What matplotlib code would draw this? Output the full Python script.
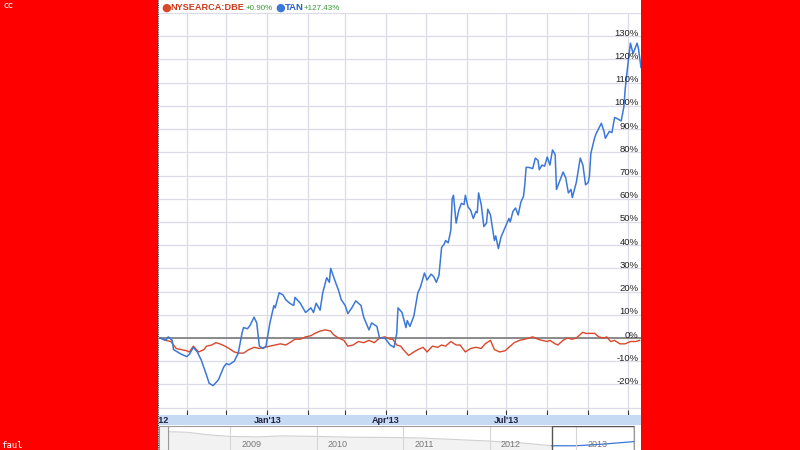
import numpy as np
import pandas as pd
import matplotlib
matplotlib.use("Agg")
import matplotlib.pyplot as plt
from matplotlib.patches import Rectangle

# start of the one-year window
start = pd.Timestamp("2012-10-11")

# TAN: days after start, % change
tan_days = [1, 5, 7, 10, 11, 17, 21, 23, 26, 29, 32, 36, 38, 41, 45, 49, 51, 53, 57, 60,
            63, 64, 67, 69, 72, 74, 76, 79, 81, 84, 87, 88, 91, 94, 96, 99, 102, 103, 107, 111,
            115, 117, 119, 122, 124, 127, 129, 130, 134, 136, 138, 141, 143, 146, 149, 153, 155, 159, 161, 165,
            167, 171, 175, 178, 180, 181, 184, 187, 188, 190, 193, 196, 198, 201, 203, 206, 208, 210, 212, 214,
            216, 217, 219, 221, 222, 223, 225, 227, 229, 231, 232, 234, 236, 238, 240, 241, 242, 244, 246, 248,
            249, 251, 254, 255, 257, 259, 262, 265, 266, 268, 270, 272, 274, 276, 277, 278, 280, 283, 285, 287,
            288, 290, 292, 294, 296, 298, 300, 301, 303, 306, 308, 310, 312, 313, 316, 318, 319, 321, 323, 325,
            326, 327, 330, 331, 335, 337, 338, 341, 343, 345, 347, 350, 352, 353, 354, 356, 357, 359, 361, 362,
            363, 365]
tan_pct = [0, -1, 0.5, -1, -5, -7, -8, -7, -4, -6, -9.5, -16, -19.5, -20.5, -18, -12.5, -11, -11.5, -10, -6.5,
           2.5, 4.5, 4, 5.5, 9, 6.5, -3.5, -4.5, -3.5, 6.5, 14, 13, 19.5, 18.5, 16.5, 15, 14, 17.5, 15, 11,
           13, 11, 15, 12, 19.5, 26, 24, 30, 23.5, 20.5, 16.5, 14, 10.5, 13, 16, 14, 9, 3.5, 6.5, 5,
           0, 0, -3, -4, 2, 13, 11, 4.5, 7.5, 5, 9.5, 19.5, 22, 28, 25, 27.5, 26.5, 24, 27, 39,
           40.5, 42, 41, 46.5, 60, 61.5, 49.5, 55, 58, 57.5, 61.5, 56.5, 55, 51.5, 54.5, 54, 62.5, 57.5, 48, 49.5,
           55.5, 53, 42, 44, 38.5, 43.5, 47.5, 51.5, 50, 54.5, 56, 53, 58.5, 61, 66, 73.5, 73.5, 73, 77.5, 76.5,
           72.5, 74.5, 74, 78, 74.5, 81, 79, 64, 67, 71.5, 69, 62.5, 64, 60.5, 67, 74, 77.5, 74.5, 66, 67,
           70, 79.5, 86.5, 88, 92.5, 89, 86, 89, 88.5, 95, 94.5, 93.5, 99.5, 107, 112.5, 122.5, 127, 122.5, 125.5, 127,
           125, 116.5]

# NYSEARCA:DBE: days after start, % change
dbe_days = [1, 5, 9, 13, 17, 21, 23, 26, 30, 34, 36, 40, 43, 46, 50, 53, 57, 61, 64, 68,
            72, 76, 80, 84, 88, 92, 96, 99, 103, 107, 111, 115, 118, 122, 126, 130, 132, 136, 140, 143,
            147, 151, 155, 159, 163, 167, 171, 175, 177, 180, 183, 185, 189, 193, 196, 200, 203, 207, 211, 214,
            217, 221, 225, 228, 232, 236, 240, 244, 247, 251, 254, 258, 262, 265, 269, 273, 277, 280, 283, 287,
            290, 294, 296, 300, 302, 306, 309, 313, 316, 319, 321, 323, 327, 330, 333, 337, 339, 342, 345, 349,
            353, 357, 361, 364]
dbe_pct = [0, -1, -1.5, -4.5, -5, -5.5, -6, -3.5, -6, -5, -3.5, -3, -2, -2.5, -3.5, -4.5, -6, -6.5, -6.5, -5,
           -4, -4.5, -4, -3.5, -3, -2.5, -3, -2, -0.5, -0.5, 0.5, 1, 2, 3, 3.5, 3, 1.5, 0, -1, -3.5,
           -3, -1.5, -2, -1, -2, 0, 0.5, -0.5, -0.5, -3, -3.5, -5, -7.5, -6, -5, -4, -6, -3.5, -4, -3,
           -3.5, -1.5, -3, -3, -6, -4.5, -4, -4.5, -2.5, -1, -5, -6, -5.5, -4, -2, -1, -0.5, 0, 0.5, -0.5,
           -1, -1.5, -1, -2.5, -3, -1, 0, -0.5, 0, 1.5, 2.5, 2, 2, 2, 0.5, 0, 0.5, -1.5, -1, -2.5,
           -2.5, -1.5, -1.5, -1]

y_ticks = [-20, -10, 0, 10, 20, 30, 40, 50, 60, 70, 80, 90, 100, 110, 120, 130]
# label anchor dates (the Oct'12 label is mostly cut off at the left edge)
x_labels = {"2012-10-08": "Oct'12", "2013-01-01": "Jan'13", "2013-04-01": "Apr'13", "2013-07-01": "Jul'13"}

# navigator strip: long history (fractional years, relative level)
nav_years = [2008.28, 2008.5, 2008.75, 2009.0, 2009.3, 2009.6, 2010.0, 2010.4, 2010.8, 2011.2,
             2011.6, 2012.0, 2012.4, 2012.72, 2013.0, 2013.3, 2013.67]
nav_level = [0.78, 0.76, 0.66, 0.6, 0.58, 0.62, 0.6, 0.57, 0.56, 0.54,
             0.48, 0.42, 0.34, 0.24, 0.24, 0.3, 0.4]
nav_year_labels = [2009, 2010, 2011, 2012, 2013]

RED = "#d9482b"
BLUE = "#3b78d8"
GRID = "#dcdce8"
SANS = "Liberation Sans"

W, H = 800, 450
fig = plt.figure(figsize=(8, 4.5), dpi=100, facecolor="#ff0000")


def box(x0, y0, x1, y1):
    # pixel box (top-left origin) -> figure fraction rect
    return [x0 / W, 1 - y1 / H, (x1 - x0) / W, (y1 - y0) / H]


# white panel behind everything
fig.patches.append(Rectangle((158 / W, 0), (641 - 158) / W, 1, transform=fig.transFigure,
                             facecolor="white", edgecolor="none", zorder=-10))
fig.lines.append(plt.Line2D([158 / W, 158 / W], [0, 1], transform=fig.transFigure,
                            color="#333333", lw=0.8, ls=(0, (1, 1)), zorder=10))

tan_dates = start + pd.to_timedelta(tan_days, unit="D")
dbe_dates = start + pd.to_timedelta(dbe_days, unit="D")
end = start + pd.Timedelta(days=365)

ax = fig.add_axes(box(159, 13, 641, 410))
ax.set_facecolor("white")
ax.set_xlim(start, end)
ax.set_ylim(-31, 140)
for s in ax.spines.values():
    s.set_visible(False)

months = pd.date_range("2012-11-01", "2013-10-01", freq="MS")
for m in months:
    ax.axvline(m, color=GRID, lw=0.9, zorder=0)
for v in range(-30, 141, 10):
    ax.axhline(v, color=GRID, lw=0.9, zorder=0)
ax.axhline(0, color="#8a8a8a", lw=1.4, zorder=1)

ax.plot(dbe_dates, dbe_pct, color=RED, lw=1.0, zorder=2)
ax.plot(tan_dates, tan_pct, color=BLUE, lw=1.1, zorder=3)

ax.set_xticks(months)
ax.tick_params(axis="x", direction="out", length=4, width=0.8, color="#333333", labelbottom=False)
ax.set_yticks([])
for v in y_ticks:
    ax.text(0.995, v + 1.3, f"{v}%", transform=ax.get_yaxis_transform(), ha="right", va="center",
            fontsize=6.8, color="#222222", family=SANS)

# blue label band
band = fig.add_axes(box(159, 415, 641, 425), sharex=ax)
band.set_facecolor("#c6daf4")
for s in band.spines.values():
    s.set_visible(False)
band.set_yticks([])
band.tick_params(axis="x", length=0, labelbottom=False)
for d, lab in x_labels.items():
    band.text(pd.Timestamp(d), 0.45, lab, ha="center", va="center", fontsize=6.5,
              fontweight="bold", color="#222244", clip_on=True, family=SANS,
              transform=band.get_xaxis_transform())

# navigator
nav = fig.add_axes(box(168, 426, 634, 452))
nav.set_facecolor("white")
nav.set_xlim(2008.28, 2013.67)
nav.set_ylim(0, 1)
nav.set_xticks([])
nav.set_yticks([])
for s in nav.spines.values():
    s.set_color("#9a9a9a")
    s.set_linewidth(0.8)
ny = np.array(nav_years)
nl = np.array(nav_level)
old = ny <= 2012.72
new = ny >= 2012.72
nav.fill_between(ny[old], nl[old], 0, color="#f2f2f2", lw=0)
nav.plot(ny[old], nl[old], color="#d0d0d0", lw=0.8)
nav.plot(ny[new], nl[new], color=BLUE, lw=0.9)
for yr in nav_year_labels:
    nav.axvline(yr, color="#d6d6d6", lw=0.8)
    nav.text(yr + 0.13, 0.3, str(yr), fontsize=6.5, color="#777777", va="center", family=SANS)
nav.add_patch(Rectangle((2012.72, 0), 2013.67 - 2012.72, 1, fill=False,
                        edgecolor="#555555", lw=1.0, zorder=5))
fig.patches.append(Rectangle((159 / W, 0), 9 / W, 24 / H, transform=fig.transFigure,
                             facecolor="#f4f4f4", edgecolor="#9a9a9a", lw=0.8, zorder=5))

# legend line at the top
fig.text(161 / W, 1 - 8 / H, "\u25cf", color=RED, fontsize=8, va="center")
fig.text(170 / W, 1 - 8 / H, "NYSEARCA:DBE", color="#cc3a1c", fontsize=6.6,
         fontweight="bold", va="center", family=SANS)
fig.text(246 / W, 1 - 9 / H, "+0.90%", color="#3a9a3a", fontsize=5.8, va="center", family=SANS)
fig.text(275 / W, 1 - 8 / H, "\u25cf", color=BLUE, fontsize=8, va="center")
fig.text(285 / W, 1 - 8 / H, "TAN", color="#2a62c2", fontsize=6.8, fontweight="bold", va="center",
         family=SANS)
fig.text(304 / W, 1 - 9 / H, "+127.43%", color="#3a9a3a", fontsize=5.8, va="center", family=SANS)

# corner marks
fig.text(4 / W, 1 - 6 / H, "cc", color="white", fontsize=6.5, va="center")
fig.text(1 / W, 1 - 445 / H, "faul", color="white", fontsize=6.5, va="center", family="DejaVu Sans Mono")

fig.savefig("out.png", dpi=100, facecolor=fig.get_facecolor())
